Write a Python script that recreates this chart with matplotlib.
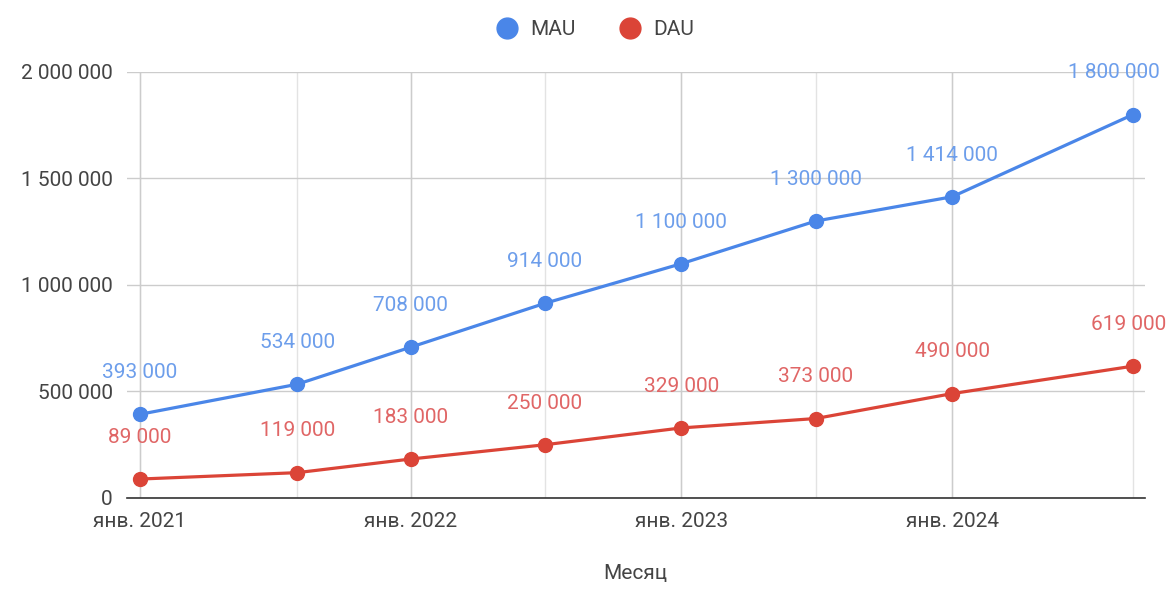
import numpy as np
import pandas as pd
from matplotlib import pyplot as plt
from matplotlib.ticker import FuncFormatter

months = ['2021-01-01', '2021-08-01', '2022-01-01', '2022-07-01',
          '2023-01-01', '2023-07-01', '2024-01-01', '2024-09-01']
mau = [393000, 534000, 708000, 914000, 1100000, 1300000, 1414000, 1800000]
dau = [89000, 119000, 183000, 250000, 329000, 373000, 490000, 619000]
year_ticks = ['2021-01-01', '2022-01-01', '2023-01-01', '2024-01-01']
year_labels = ['янв. 2021', 'янв. 2022', 'янв. 2023', 'янв. 2024']

dates = pd.to_datetime(months)
ticks = pd.to_datetime(year_ticks)

plt.rcParams['font.family'] = ['Roboto', 'DejaVu Sans']

fig = plt.figure(figsize=(11.73, 5.89), dpi=100)
ax = fig.add_axes([0.108, 0.1545, 0.868, 0.7233])

blue, red = '#4a86e8', '#db4437'
blue_lbl, red_lbl = '#6d9eeb', '#e06666'

# vertical gridlines at every data point, darker at year ticks
for d in dates:
    ax.axvline(d, color='#e3e3e3', lw=1, zorder=0)
for t in ticks:
    ax.axvline(t, color='#cccccc', lw=1, zorder=0)

ax.plot(dates, mau, color=blue, lw=2.3, marker='o', markersize=10, label='MAU', zorder=3)
ax.plot(dates, dau, color=red, lw=2.3, marker='o', markersize=10, label='DAU', zorder=3)

def fmt(v):
    return f'{int(v):,}'.replace(',', ' ')

last = len(dates) - 1
for i, (d, v) in enumerate(zip(dates, mau)):
    dx = -14 if i == last else 0
    ax.annotate(fmt(v), (d, v), xytext=(dx, 30), textcoords='offset points',
                ha='center', va='center', fontsize=15, color=blue_lbl, zorder=4)
for i, (d, v) in enumerate(zip(dates, dau)):
    dx = -3 if i == last else 0
    ax.annotate(fmt(v), (d, v), xytext=(dx, 30), textcoords='offset points',
                ha='center', va='center', fontsize=15, color=red_lbl, zorder=4)

ax.set_xlim(pd.Timestamp('2020-12-14'), pd.Timestamp('2024-09-17'))
ax.set_ylim(0, 2000000)
ax.set_yticks([0, 500000, 1000000, 1500000, 2000000])
ax.yaxis.set_major_formatter(FuncFormatter(lambda v, p: fmt(v)))
ax.set_xticks(ticks)
ax.set_xticklabels(year_labels)
ax.grid(axis='y', color='#cccccc', lw=1, zorder=0)
ax.set_axisbelow(True)

for s in ['top', 'right', 'left']:
    ax.spines[s].set_visible(False)
ax.spines['bottom'].set_color('#333333')
ax.spines['bottom'].set_linewidth(1.2)
ax.tick_params(axis='both', length=0, labelsize=15, labelcolor='#444444')
ax.tick_params(axis='x', pad=10)
ax.tick_params(axis='y', pad=10)

ax.set_xlabel('Месяц', fontsize=15, color='#444444', labelpad=24)

leg = fig.legend(loc='upper center', bbox_to_anchor=(0.512, 0.998), ncol=2, frameon=False,
                 fontsize=15, handlelength=0, handletextpad=1.1, columnspacing=2.6,
                 markerscale=1.5)
for h in leg.legend_handles:
    h.set_linestyle('none')
for t in leg.get_texts():
    t.set_color('#444444')

plt.savefig('out.png', dpi=100)
